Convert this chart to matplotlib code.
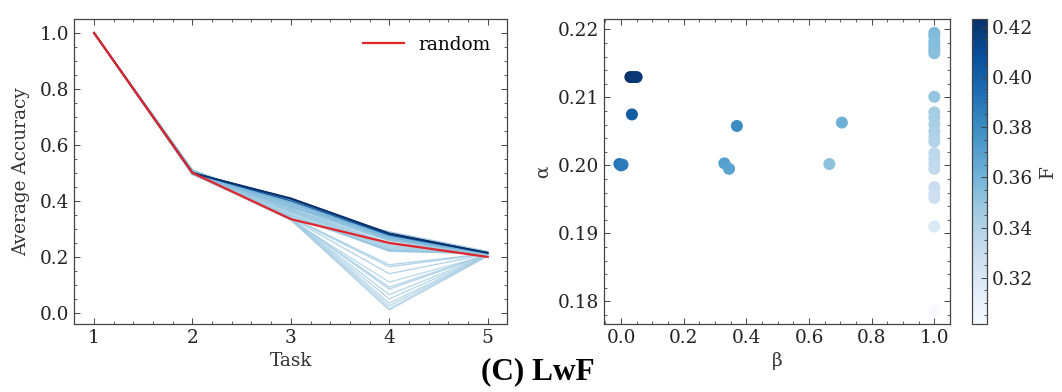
import numpy as np
import matplotlib.pyplot as plt
import matplotlib.colors as mcolors
from matplotlib.ticker import AutoMinorLocator

plt.rcParams["font.family"] = ["DejaVu Serif"]

# ─────────────────────────────────────────
# Dati: una riga per run (beta, alpha, F, accuratezza sui task)
# ─────────────────────────────────────────

tasks = [1, 2, 3, 4, 5]

beta = [0.030, 0.040, 0.050, 0.035, -0.005, 0.000, 0.005,
        0.370, 0.330, 0.345, 0.705, 0.665,
        1.0, 1.0, 1.0, 1.0, 1.0, 1.0, 1.0,
        1.0, 1.0, 1.0, 1.0, 1.0, 1.0,
        1.0, 1.0, 1.0, 1.0, 1.0, 1.0, 1.0, 1.0, 1.0]

alpha = [0.2130, 0.2130, 0.2130, 0.2075, 0.2002, 0.2000, 0.2001,
         0.2058, 0.2003, 0.1995, 0.2063, 0.2002,
         0.2195, 0.2190, 0.2182, 0.2176, 0.2170, 0.2165, 0.2101,
         0.2078, 0.2070, 0.2060, 0.2050, 0.2042, 0.2035,
         0.2018, 0.2010, 0.2002, 0.1995, 0.1968, 0.1958, 0.1952, 0.1910, 0.1787]

F = [0.423, 0.421, 0.419, 0.402, 0.392, 0.390, 0.388,
     0.380, 0.370, 0.368, 0.361, 0.352,
     0.357, 0.356, 0.355, 0.355, 0.354, 0.353, 0.350,
     0.345, 0.344, 0.343, 0.342, 0.341, 0.340,
     0.336, 0.335, 0.334, 0.333, 0.330, 0.329, 0.328, 0.320, 0.3016]

acc = [
    [1.0, 0.500, 0.410, 0.285, 0.215],
    [1.0, 0.500, 0.408, 0.283, 0.215],
    [1.0, 0.500, 0.406, 0.282, 0.214],
    [1.0, 0.500, 0.400, 0.278, 0.214],
    [1.0, 0.505, 0.395, 0.275, 0.213],
    [1.0, 0.500, 0.392, 0.272, 0.213],
    [1.0, 0.498, 0.390, 0.270, 0.212],
    [1.0, 0.510, 0.385, 0.268, 0.216],
    [1.0, 0.500, 0.382, 0.265, 0.215],
    [1.0, 0.495, 0.380, 0.262, 0.214],
    [1.0, 0.505, 0.378, 0.260, 0.215],
    [1.0, 0.500, 0.372, 0.258, 0.214],
    [1.0, 0.505, 0.375, 0.290, 0.220],
    [1.0, 0.500, 0.370, 0.250, 0.218],
    [1.0, 0.510, 0.368, 0.245, 0.217],
    [1.0, 0.495, 0.365, 0.240, 0.216],
    [1.0, 0.500, 0.362, 0.235, 0.215],
    [1.0, 0.505, 0.360, 0.230, 0.214],
    [1.0, 0.500, 0.355, 0.225, 0.213],
    [1.0, 0.500, 0.350, 0.220, 0.212],
    [1.0, 0.495, 0.348, 0.225, 0.211],
    [1.0, 0.500, 0.345, 0.222, 0.210],
    [1.0, 0.505, 0.342, 0.172, 0.212],
    [1.0, 0.500, 0.340, 0.165, 0.211],
    [1.0, 0.500, 0.338, 0.140, 0.210],
    [1.0, 0.495, 0.336, 0.092, 0.209],
    [1.0, 0.500, 0.335, 0.085, 0.208],
    [1.0, 0.500, 0.335, 0.065, 0.207],
    [1.0, 0.505, 0.334, 0.050, 0.206],
    [1.0, 0.500, 0.334, 0.035, 0.205],
    [1.0, 0.500, 0.333, 0.025, 0.205],
    [1.0, 0.495, 0.333, 0.015, 0.204],
    [1.0, 0.500, 0.332, 0.110, 0.206],
    [1.0, 0.500, 0.332, 0.010, 0.203],
]

acc_random = [1.0, 0.50, 0.335, 0.25, 0.20]

cf_ticks = [0.32, 0.34, 0.36, 0.38, 0.40, 0.42]
alpha_ticks = [0.18, 0.19, 0.20, 0.21, 0.22]

FS = 13.3


def style_axes(ax):
    ax.tick_params(which="both", direction="in", top=True, right=True,
                   labelsize=FS, colors="#444444", labelcolor="#222222")
    ax.tick_params(which="major", length=4, width=0.7)
    ax.tick_params(which="minor", length=2, width=0.6)
    ax.xaxis.set_minor_locator(AutoMinorLocator())
    ax.yaxis.set_minor_locator(AutoMinorLocator())
    for s in ax.spines.values():
        s.set_linewidth(0.9)
        s.set_color("#444444")


fig = plt.figure(figsize=(10.62, 3.92), dpi=100)
ax1 = fig.add_axes([0.070, 0.1735, 0.4077, 0.778])
ax2 = fig.add_axes([0.5684, 0.1735, 0.3262, 0.778])
cax = fig.add_axes([0.9153, 0.1735, 0.0141, 0.778])

cmap = plt.get_cmap("Blues")
norm = mcolors.Normalize(vmin=min(F), vmax=max(F))

# linee ordinate per F crescente: le piu' scure finiscono sopra,
# le altre restano in un azzurro chiaro
order = np.argsort(F)
for i in order:
    if F[i] >= 0.40:
        col, a = cmap(norm(F[i])), 1.0
    else:
        col, a = cmap(0.3 + 0.25 * norm(F[i])), 0.75
    ax1.plot(tasks, acc[i], color=col, lw=1.0, alpha=a)
ax1.plot(tasks, acc_random, color="#e0262b", lw=1.6, label="random")

ax1.set_xlabel("Task", fontsize=FS, color="#333333")
ax1.set_ylabel("Average Accuracy", fontsize=FS, color="#333333", labelpad=7)
ax1.set_xticks(tasks)
ax1.legend(loc="upper right", frameon=False, fontsize=FS, handlelength=2.2)
style_axes(ax1)

sc = ax2.scatter(beta, alpha, c=F, cmap=cmap, norm=norm, s=75,
                 edgecolors="none", zorder=3)
ax2.set_xlabel("β", fontsize=FS, color="#333333")
ax2.set_ylabel("α", fontsize=FS, color="#333333")
ax2.set_yticks(alpha_ticks)
style_axes(ax2)

cb = fig.colorbar(sc, cax=cax)
cb.set_ticks(cf_ticks)
cb.set_label("F", fontsize=FS, color="#333333")
cb.ax.yaxis.set_minor_locator(AutoMinorLocator())
cb.ax.tick_params(which="both", direction="in", labelsize=FS,
                  labelcolor="#222222", colors="#444444")
cb.ax.tick_params(which="major", length=4, width=0.7)
cb.ax.tick_params(which="minor", length=2, width=0.6)
cb.outline.set_linewidth(0.9)
cb.outline.set_edgecolor("#444444")

fig.text(538 / 1062, 1 - 372 / 392, "(C) LwF", ha="center", va="center",
         fontsize=22.5, fontweight="bold", family="Liberation Serif")

fig.savefig("out.png", dpi=100)
